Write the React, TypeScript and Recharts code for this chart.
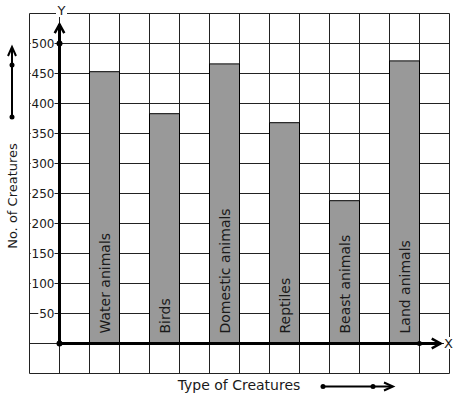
import { BarChart, Bar, XAxis, YAxis, CartesianGrid, LabelList, ReferenceLine, ReferenceDot } from 'recharts'

// Data
const categories = ['Water animals', 'Birds', 'Domestic animals', 'Reptiles', 'Beast animals', 'Land animals']
const creatures = [453, 383, 466, 368, 238, 471]
const yTicks = [-50, 0, 50, 100, 150, 200, 250, 300, 350, 400, 450, 500, 550]
const yLabels = [50, 100, 150, 200, 250, 300, 350, 400, 450, 500]
const xTicks = [-1, 0, 1, 2, 3, 4, 5, 6, 7, 8, 9, 10, 11, 12, 13]
const xDomain = [-1, 13]

// each bar sits in every second grid column, to the right of the Y axis
const data = categories.map((name, i) => ({ name, pos: 2 * i + 1.5, value: creatures[i] }))

const FONT = 'DejaVu Sans, sans-serif'
const INK = '#1a1a1a'

const YTick = ({ x, y, payload }: any) => {
  if (!yLabels.includes(payload.value)) return null
  const label = String(payload.value)
  const w = label.length * 7.6 + 1
  const ex = x + 33
  return (
    <g>
      <rect x={ex - w} y={y - 6} width={w} height={12} fill='#fff' />
      <text x={ex} y={y} dy={4.5} textAnchor='end' fontSize={12} fontFamily={FONT} fill={INK}>
        {label}
      </text>
    </g>
  )
}

const AxisArrow = ({ x1, y1, x2, y2 }: any) => {
  const a = Math.atan2(y2 - y1, x2 - x1)
  const len = 10
  const spread = 0.5
  const p1 = [x2 - len * Math.cos(a - spread), y2 - len * Math.sin(a - spread)]
  const p2 = [x2 - len * Math.cos(a + spread), y2 - len * Math.sin(a + spread)]
  return (
    <g stroke='#000' fill='none'>
      <line x1={x1} y1={y1} x2={x2} y2={y2} strokeWidth={3} />
      <polyline points={`${p1[0]},${p1[1]} ${x2},${y2} ${p2[0]},${p2[1]}`} strokeWidth={2.5} />
    </g>
  )
}

const BarName = ({ x, y, width, height, value }: any) => {
  const cx = x + width / 2 + 5
  const by = y + height - 10
  return (
    <text
      x={cx}
      y={by}
      transform={`rotate(-90 ${cx} ${by})`}
      fontSize={14}
      fontFamily={FONT}
      fill={INK}
    >
      {value}
    </text>
  )
}

// vertical grid lines at every unit of the x domain
const gridColumns = ({ offset }: any) =>
  xTicks.map((t) => offset.left + ((t - xDomain[0]) / (xDomain[1] - xDomain[0])) * offset.width)

export default function App() {
  return (
    <div style={{ position: 'absolute', left: 0, top: 0, width: 457, height: 399, background: '#fff' }}>
      <BarChart
        width={457}
        height={399}
        data={data}
        margin={{ top: 13.5, left: 0, right: 7.5, bottom: 25.5 }}
      >
        <CartesianGrid stroke='#222' strokeWidth={1} verticalCoordinatesGenerator={gridColumns} />
        <XAxis
          dataKey='pos'
          type='number'
          domain={xDomain}
          ticks={xTicks}
          height={0}
          axisLine={false}
          tickLine={false}
          tick={false}
        />
        <YAxis
          type='number'
          domain={[-50, 550]}
          ticks={yTicks}
          interval={0}
          width={29.5}
          axisLine={false}
          tickLine={false}
          tick={<YTick />}
        />
        <Bar dataKey='value' fill='#999999' stroke='#000' strokeWidth={1} barSize={30} isAnimationActive={false}>
          <LabelList dataKey='name' content={<BarName />} />
        </Bar>
        <ReferenceLine segment={[{ x: 0, y: 0 }, { x: 0, y: 532 }]} shape={<AxisArrow />} />
        <ReferenceLine segment={[{ x: 0, y: 0 }, { x: 12.7, y: 0 }]} shape={<AxisArrow />} />
        <ReferenceDot x={0} y={0} r={3} fill='#000' stroke='none' />
        <ReferenceDot x={0} y={500} r={3} fill='#000' stroke='none' />
        <ReferenceDot x={12} y={0} r={2.5} fill='#000' stroke='none' />
      </BarChart>
      <svg
        width={457}
        height={399}
        style={{ position: 'absolute', left: 0, top: 0, pointerEvents: 'none' }}
        fontFamily={FONT}
      >
        {/* axis letters */}
        <rect x={56} y={5} width={11} height={12} fill='#fff' />
        <text x={61.5} y={15} textAnchor='middle' fontSize={13} fill={INK}>Y</text>
        <rect x={444} y={337} width={10} height={12} fill='#fff' />
        <text x={448.5} y={348} textAnchor='middle' fontSize={13} fill={INK}>X</text>

        {/* y title with arrow */}
        <text x={16.5} y={196} transform='rotate(-90 16.5 196)' textAnchor='middle' fontSize={13} fill={INK}>
          No. of Creatures
        </text>
        <g stroke='#000' fill='none' strokeWidth={2}>
          <line x1={12} y1={117} x2={12} y2={48} />
          <polyline points='8,56 12,47 16,56' />
        </g>
        <circle cx={12} cy={117} r={2.5} fill='#000' />
        <circle cx={12} cy={65} r={2.5} fill='#000' />

        {/* x title with arrow */}
        <text x={239} y={390} textAnchor='middle' fontSize={14} fill={INK}>
          Type of Creatures
        </text>
        <g stroke='#000' fill='none' strokeWidth={2}>
          <line x1={323} y1={386.5} x2={392} y2={386.5} />
          <polyline points='384,382.5 393,386.5 384,390.5' />
        </g>
        <circle cx={323} cy={386.5} r={2.5} fill='#000' />
        <circle cx={373} cy={386.5} r={2.5} fill='#000' />
      </svg>
    </div>
  )
}
